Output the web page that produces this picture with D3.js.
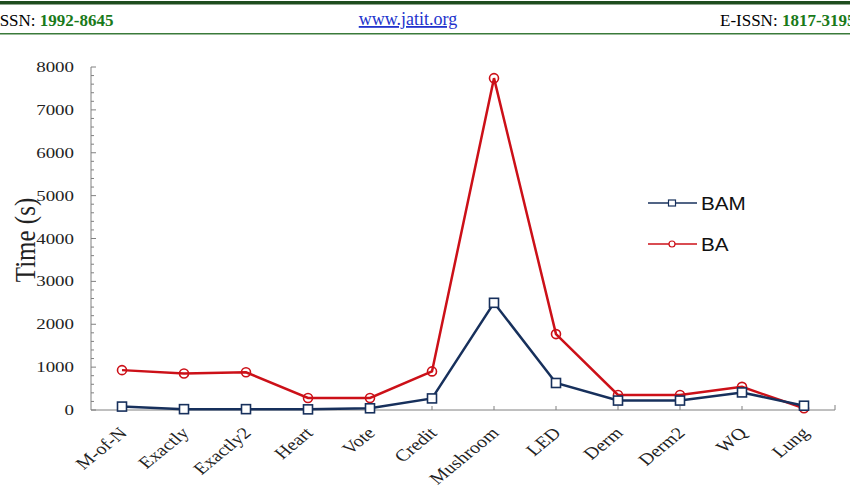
<!DOCTYPE html>
<html>
<head>
<meta charset="utf-8">
<script src="https://cdn.jsdelivr.net/npm/d3@7"></script>
<style>
  body { margin: 0; background: #fff; }
  svg { display: block; }
</style>
</head>
<body>
<svg width="850" height="494"></svg>
<script>
const categories = ['M-of-N', 'Exactly', 'Exactly2', 'Heart', 'Vote', 'Credit', 'Mushroom', 'LED', 'Derm', 'Derm2', 'WQ', 'Lung']
const bam = [80, 20, 20, 15, 40, 270, 2500, 630, 220, 220, 410, 100]
const ba = [930, 850, 880, 280, 280, 900, 7740, 1770, 350, 350, 540, 40]
const yTicks = [0, 1000, 2000, 3000, 4000, 5000, 6000, 7000, 8000]

const svg = d3.select('svg')
const serif = '"Liberation Serif", "DejaVu Serif", serif'
const sans = '"Liberation Sans", Arial, sans-serif'
const stretch = 1.22 // the chart picture is a bit wider than tall

// journal header (page is cropped at both sides)
svg.append('rect').attr('x', 0).attr('y', 1).attr('width', 850).attr('height', 3.5).attr('fill', '#1e4d1e')
svg.append('rect').attr('x', 0).attr('y', 33).attr('width', 850).attr('height', 1.5).attr('fill', '#3b7a3b')
const h1 = svg.append('text').attr('x', -6).attr('y', 26).attr('font-family', serif).attr('font-size', 17)
h1.append('tspan').text('ISSN: ')
h1.append('tspan').attr('fill', '#1a7a1a').attr('font-weight', 'bold').text('1992-8645')
svg.append('text').attr('x', 408).attr('y', 25).attr('text-anchor', 'middle')
  .attr('font-family', serif).attr('font-size', 18).attr('fill', '#2233cc')
  .attr('text-decoration', 'underline').text('www.jatit.org')
const h3 = svg.append('text').attr('x', 720).attr('y', 26).attr('font-family', serif).attr('font-size', 17)
h3.append('tspan').text('E-ISSN: ')
h3.append('tspan').attr('fill', '#1a7a1a').attr('font-weight', 'bold').text('1817-3195')

// chart area
const pLeft = 91, pRight = 835, pTop = 67, pBottom = 410
const x = d3.scalePoint().domain(categories).range([pLeft, pRight]).padding(0.5)
const y = d3.scaleLinear().domain([0, 8000]).range([pBottom, pTop])

const g = svg.append('g')

// y axis, ticks pointing inward
g.append('line').attr('x1', pLeft).attr('x2', pLeft).attr('y1', pTop).attr('y2', pBottom).attr('stroke', '#808080')
g.selectAll('.minor').data(d3.range(0, 8001, 200)).enter().append('line')
  .attr('x1', pLeft).attr('x2', d => d % 1000 === 0 ? pLeft + 5 : pLeft + 3)
  .attr('y1', d => y(d)).attr('y2', d => y(d)).attr('stroke', '#808080')
g.selectAll('.ylab').data(yTicks).enter().append('text')
  .attr('transform', d => `translate(${pLeft - 17}, ${y(d) + 5}) scale(${stretch}, 1)`)
  .attr('text-anchor', 'end')
  .attr('font-family', serif).attr('font-size', 15.5).attr('fill', '#222')
  .text(d => d)

// x axis
g.append('line').attr('x1', pLeft).attr('x2', pRight).attr('y1', pBottom).attr('y2', pBottom).attr('stroke', '#808080')
g.selectAll('.xtick').data(categories).enter().append('line')
  .attr('x1', d => x(d)).attr('x2', d => x(d)).attr('y1', pBottom).attr('y2', pBottom - 4).attr('stroke', '#808080')
g.append('line').attr('x1', pRight).attr('x2', pRight).attr('y1', pBottom - 5).attr('y2', pBottom).attr('stroke', '#808080')
g.selectAll('.xlab').data(categories).enter().append('text')
  .attr('transform', d => `translate(${x(d) + 6}, ${pBottom + 24}) scale(${stretch}, 1) rotate(-45)`)
  .attr('text-anchor', 'end')
  .attr('font-family', serif).attr('font-size', 16.5).attr('fill', '#222')
  .text(d => d)

// y title
svg.append('text').attr('transform', `translate(35, 240) scale(1.15, 1) rotate(-90)`)
  .attr('text-anchor', 'middle').attr('font-family', serif).attr('font-size', 25).attr('fill', '#222')
  .text('Time (s)')

// series
const line = d3.line().x((d, i) => x(categories[i])).y(d => y(d))
const series = [
  { name: 'BA', values: ba, color: '#cc1018', shape: 'circle' },
  { name: 'BAM', values: bam, color: '#17305c', shape: 'square' }
]
series.forEach(s => {
  g.append('path').attr('d', line(s.values)).attr('fill', 'none')
    .attr('stroke', s.color).attr('stroke-width', 2.5)
  if (s.shape === 'square') {
    g.selectAll('.sq').data(s.values).enter().append('rect')
      .attr('x', (d, i) => x(categories[i]) - 4.5).attr('y', d => y(d) - 4.5)
      .attr('width', 9).attr('height', 9)
      .attr('fill', '#fff').attr('stroke', s.color).attr('stroke-width', 1.6)
  } else {
    g.selectAll('.ci').data(s.values).enter().append('circle')
      .attr('cx', (d, i) => x(categories[i])).attr('cy', d => y(d)).attr('r', 4.5)
      .attr('fill', 'none').attr('stroke', s.color).attr('stroke-width', 1.6)
  }
})

// legend
const legend = [
  { name: 'BAM', color: '#17305c', shape: 'square', y: 203 },
  { name: 'BA', color: '#cc1018', shape: 'circle', y: 244 }
]
legend.forEach(l => {
  svg.append('line').attr('x1', 648).attr('x2', 697).attr('y1', l.y).attr('y2', l.y)
    .attr('stroke', l.color).attr('stroke-width', 1.3)
  if (l.shape === 'square') {
    svg.append('rect').attr('x', 668.5).attr('y', l.y - 3).attr('width', 7).attr('height', 6)
      .attr('fill', '#fff').attr('stroke', l.color).attr('stroke-width', 1.2)
  } else {
    svg.append('circle').attr('cx', 672).attr('cy', l.y).attr('r', 3)
      .attr('fill', '#fff').attr('stroke', l.color).attr('stroke-width', 1.2)
  }
  svg.append('text').attr('transform', `translate(701, ${l.y + 6.5}) scale(1.15, 1)`)
    .attr('font-family', sans).attr('font-size', 18)
    .attr('fill', '#111').text(l.name)
})
</script>
</body>
</html>
